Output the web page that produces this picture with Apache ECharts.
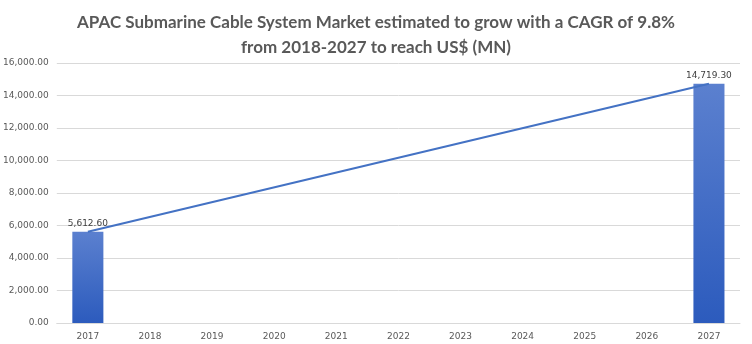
<!DOCTYPE html>
<html>
<head>
<meta charset="utf-8">
<script src="https://cdn.jsdelivr.net/npm/echarts@6/dist/echarts.min.js"></script>
<style>
  html, body { margin: 0; padding: 0; background: #fff; }
  #chart { width: 752px; height: 344px; }
</style>
</head>
<body>
<div id="chart"></div>
<script>
// Market size, US$ (MN), by year
const years = ['2017', '2018', '2019', '2020', '2021', '2022', '2023', '2024', '2025', '2026', '2027'];
const marketValues = [5612.60, null, null, null, null, null, null, null, null, null, 14719.30];
const titleText = 'APAC Submarine Cable System Market estimated to grow with a CAGR of 9.8%\nfrom 2018-2027 to reach US$ (MN)';

const fmt = v => Number(v).toLocaleString('en-US', { minimumFractionDigits: 2, maximumFractionDigits: 2 });

const chart = echarts.init(document.getElementById('chart'));
chart.setOption({
  animation: false,
  backgroundColor: '#fff',
  title: {
    text: titleText,
    left: 'center',
    top: 5,
    textStyle: {
      fontFamily: 'Lato',
      fontWeight: 'bold',
      fontSize: 17,
      lineHeight: 25,
      color: '#595959'
    }
  },
  grid: { left: 53, right: 12, top: 63, bottom: 21 },
  xAxis: {
    type: 'category',
    data: years,
    axisLine: { lineStyle: { color: '#d9d9d9' } },
    axisTick: { show: false },
    axisLabel: { color: '#595959', fontSize: 9, fontFamily: 'DejaVu Sans', margin: 9 }
  },
  yAxis: {
    type: 'value',
    min: 0,
    max: 16000,
    interval: 2000,
    axisLine: { show: false },
    axisTick: { show: false },
    splitLine: { lineStyle: { color: '#d9d9d9' } },
    axisLabel: { color: '#595959', fontSize: 9, fontFamily: 'DejaVu Sans', margin: 8, formatter: fmt }
  },
  series: [
    {
      type: 'bar',
      data: marketValues,
      barWidth: '50%',
      itemStyle: {
        color: new echarts.graphic.LinearGradient(0, 0, 0, 1, [
          { offset: 0, color: '#5b80cf' },
          { offset: 1, color: '#2c5bbd' }
        ])
      },
      label: {
        show: true,
        position: 'top',
        distance: 4,
        color: '#404040',
        fontSize: 9,
        fontFamily: 'DejaVu Sans',
        formatter: p => fmt(p.value)
      }
    },
    {
      type: 'line',
      data: marketValues,
      connectNulls: true,
      symbol: 'none',
      lineStyle: { color: '#4472c4', width: 2 },
      z: 3
    }
  ]
});
</script>
</body>
</html>
